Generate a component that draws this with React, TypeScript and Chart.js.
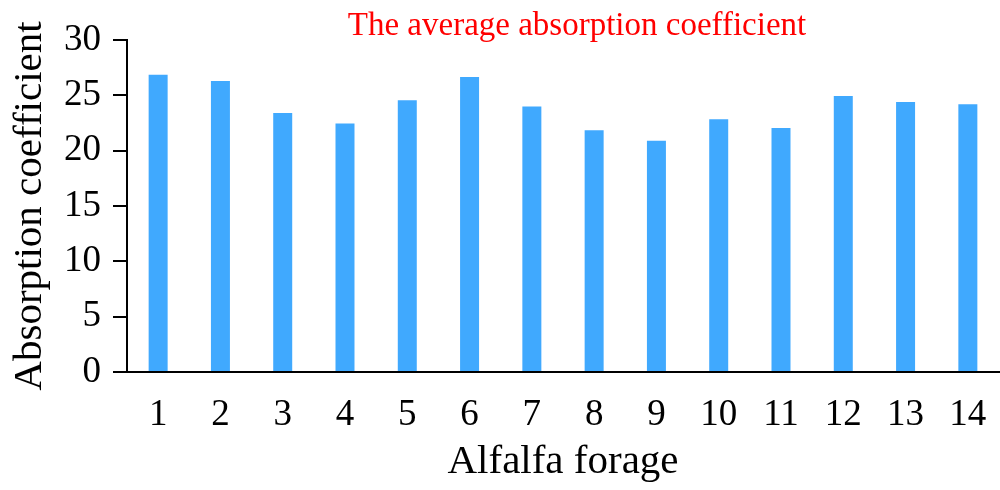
import React, { useEffect, useRef } from "react";
import { Chart, registerables } from "chart.js";

Chart.register(...registerables);

const categories = ["1", "2", "3", "4", "5", "6", "7", "8", "9", "10", "11", "12", "13", "14"];
const absorption = [26.85, 26.3, 23.4, 22.45, 24.55, 26.65, 24.0, 21.85, 20.9, 22.85, 22.05, 24.95, 24.4, 24.2];
const yTicks = [0, 5, 10, 15, 20, 25, 30];
const titleText = "The average absorption coefficient";
const xTitle = "Alfalfa forage";
const yTitle = "Absorption coefficient";

const SERIF = "'Liberation Serif', 'Times New Roman', serif";

const titlePlugin = {
  id: "customTitle",
  afterDraw(chart: any) {
    const ctx = chart.ctx;
    ctx.save();
    ctx.font = `33px ${SERIF}`;
    ctx.fillStyle = "#ff0000";
    ctx.textAlign = "center";
    ctx.textBaseline = "middle";
    ctx.fillText(titleText, 577, 26);
    ctx.restore();
  },
};

export default function App() {
  const ref = useRef<HTMLCanvasElement | null>(null);

  useEffect(() => {
    document.body.style.margin = "0";
    const canvas = ref.current;
    if (!canvas) return;
    const chart = new Chart(canvas, {
      type: "bar",
      data: {
        labels: categories,
        datasets: [
          {
            data: absorption,
            backgroundColor: "rgb(64,169,254)",
            borderWidth: 0,
            barPercentage: 0.305,
            categoryPercentage: 1,
          },
        ],
      },
      options: {
        animation: false,
        responsive: false,
        maintainAspectRatio: false,
        devicePixelRatio: 1,
        layout: { padding: { top: 40, right: 1, left: 0, bottom: 0 } },
        plugins: {
          legend: { display: false },
          tooltip: { enabled: false },
          title: { display: false },
        },
        scales: {
          x: {
            grid: {
              display: true,
              drawOnChartArea: false,
              drawTicks: true,
              tickLength: 19,
              color: "rgba(0,0,0,0)",
            },
            border: { display: true, color: "#000", width: 2 },
            ticks: {
              color: "#000",
              font: { family: SERIF, size: 37 },
              padding: 2,
              maxRotation: 0,
              autoSkip: false,
            },
            title: {
              display: true,
              text: xTitle,
              color: "#000",
              font: { family: SERIF, size: 41 },
              padding: { top: 0, bottom: 3 },
            },
            afterFit(scale: any) {
              scale.height = 118;
            },
          },
          y: {
            min: 0,
            max: 30,
            afterBuildTicks(scale: any) {
              scale.ticks = yTicks.map((v) => ({ value: v }));
            },
            grid: {
              display: true,
              drawOnChartArea: false,
              drawTicks: true,
              tickLength: 14,
              color: "#000",
              lineWidth: 2,
            },
            border: { display: true, color: "#000", width: 2 },
            ticks: {
              color: "#000",
              font: { family: SERIF, size: 37 },
              padding: 12,
            },
            title: {
              display: true,
              text: yTitle,
              color: "#000",
              font: { family: SERIF, size: 41 },
              padding: { top: 6, bottom: 0 },
            },
            afterFit(scale: any) {
              scale.width = 127;
            },
          },
        },
      },
      plugins: [titlePlugin],
    });
    return () => chart.destroy();
  }, []);

  return (
    <div style={{ width: 1000, height: 490, position: "relative", background: "#fff" }}>
      <canvas ref={ref} width={1000} height={490} style={{ display: "block" }} />
    </div>
  );
}
